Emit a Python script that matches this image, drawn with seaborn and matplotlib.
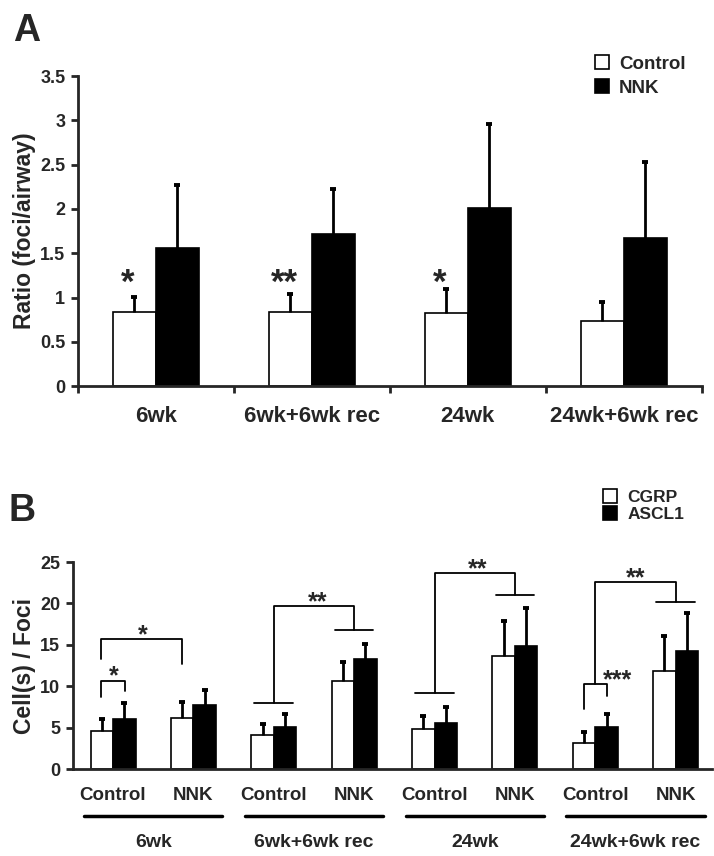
import matplotlib
matplotlib.use("Agg")
import matplotlib.pyplot as plt
import matplotlib.transforms as mtransforms
from matplotlib.lines import Line2D
from matplotlib.ticker import FormatStrFormatter
import numpy as np
import pandas as pd
import seaborn as sns

# ---- panel A data ----
groups = ["6wk", "6wk+6wk rec", "24wk", "24wk+6wk rec"]
treatments = ["Control", "NNK"]
ratio_control = [0.84, 0.84, 0.82, 0.73]
ratio_control_err = [0.17, 0.20, 0.28, 0.22]
ratio_nnk = [1.56, 1.72, 2.01, 1.67]
ratio_nnk_err = [0.71, 0.51, 0.95, 0.86]
stars_a = ["*", "**", "*", ""]

# ---- panel B data ----
markers = ["CGRP", "ASCL1"]
cgrp = [4.6, 6.2, 4.1, 10.6, 4.8, 13.6, 3.2, 11.9]
cgrp_err = [1.5, 1.95, 1.3, 2.3, 1.6, 4.3, 1.25, 4.2]
ascl1 = [6.0, 7.7, 5.1, 13.3, 5.6, 14.9, 5.1, 14.3]
ascl1_err = [2.0, 1.9, 1.5, 1.8, 1.95, 4.5, 1.6, 4.6]

# significance marks of panel B (x in bar-slot units, y in cells/foci)
pair_brackets = [  # x left, x right, y top, y left end, y right end
    (-0.145, 0.145, 10.6, 8.7, 9.4),
    (-0.145, 0.855, 15.7, 13.3, 12.7),
    (5.855, 6.145, 10.3, 7.3, 8.8),
]
group_brackets = [  # control slot, NNK slot, y start, y top, y NNK line, draw control line
    (2, 3, 8.0, 19.7, 16.8, True),
    (4, 5, 9.15, 23.7, 21.0, True),
    (6, 7, 10.3, 22.6, 20.2, False),
]
star_labels_b = [("*", 0.01, 12.1), ("*", 0.37, 17.0), ("**", 2.55, 21.1),
                 ("**", 4.54, 25.0), ("**", 6.5, 23.95), ("***", 6.28, 11.6)]

sns.set_style("ticks")
plt.rcParams["font.family"] = ["Liberation Sans", "DejaVu Sans"]
plt.rcParams["font.weight"] = "bold"
fill = {"Control": "white", "NNK": "black", "CGRP": "white", "ASCL1": "black"}


def add_errorbars(ax, errs):
    for cont, err in zip(ax.containers, errs):
        for bar, e in zip(cont, err):
            x = bar.get_x() + bar.get_width() / 2
            h = bar.get_height()
            _, caps, _ = ax.errorbar(x, h, yerr=[[0], [e]], fmt="none", ecolor="black",
                                     elinewidth=2, capsize=2.5, capthick=2.8, zorder=1)
            for c in caps:
                if np.allclose(c.get_ydata(), h):
                    c.set_visible(False)


def style_axes(ax):
    sns.despine(ax=ax)
    for s in ["left", "bottom"]:
        ax.spines[s].set_linewidth(2)
    ax.tick_params(axis="y", length=5, width=2, pad=4, labelsize=13)
    ax.yaxis.set_major_formatter(FormatStrFormatter("%g"))


fig = plt.figure(figsize=(7.14, 8.56), dpi=100)
ax_a = fig.add_axes([0.109, 0.549, 0.874, 0.362])
ax_b = fig.add_axes([0.102, 0.1016, 0.895, 0.2418])

# ---- panel A ----
df_a = pd.DataFrame({
    "group": groups * 2,
    "treatment": np.repeat(treatments, len(groups)),
    "ratio": ratio_control + ratio_nnk,
})
sns.barplot(data=df_a, x="group", y="ratio", hue="treatment", hue_order=treatments,
            palette=fill, saturation=1, edgecolor="black", linewidth=1.2, width=0.55,
            errorbar=None, legend=False, ax=ax_a)
add_errorbars(ax_a, [ratio_control_err, ratio_nnk_err])
style_axes(ax_a)
ax_a.set_ylim(0, 3.5)
ax_a.set_yticks(np.arange(0, 3.51, 0.5))
ax_a.set_xlim(-0.5, 3.5)
ax_a.set_xticks(range(len(groups)))
ax_a.set_xticklabels(groups, fontsize=16, fontweight="bold")
ax_a.set_xticks(np.arange(-0.5, len(groups), 1), minor=True)
ax_a.tick_params(axis="x", which="major", length=0, pad=14)
ax_a.tick_params(axis="x", which="minor", length=5, width=2)
ax_a.set_xlabel("")
ax_a.set_ylabel("Ratio (foci/airway)", fontsize=16.5, fontweight="bold", va="center")
ax_a.yaxis.set_label_coords(-0.0857, 0.5)

for bar, s in zip(ax_a.containers[0], stars_a):
    if s:
        ax_a.annotate(s, xy=(bar.get_x() + bar.get_width() / 2 - 0.04, 1.28),
                      xytext=(0, -0.3 * 25), textcoords="offset points",
                      ha="center", va="center", fontsize=25, fontweight="bold")

fig.legend(handles=[Line2D([], [], marker="s", ls="none", mfc=fill[t], mec="black",
                           ms=9.5, mew=1.2, label=t) for t in treatments],
           loc="center left", bbox_to_anchor=(0.833, 0.911), frameon=False,
           fontsize=13.5, handlelength=0.8, handletextpad=0.5, labelspacing=0.35,
           borderpad=0, borderaxespad=0)

# ---- panel B ----
conds = [f"{g}|{t}" for g in groups for t in treatments]
df_b = pd.DataFrame({
    "cond": conds * 2,
    "marker": np.repeat(markers, len(conds)),
    "cells": cgrp + ascl1,
})
sns.barplot(data=df_b, x="cond", y="cells", hue="marker", hue_order=markers,
            palette=fill, saturation=1, edgecolor="black", linewidth=1.2, width=0.56,
            errorbar=None, legend=False, ax=ax_b)
add_errorbars(ax_b, [cgrp_err, ascl1_err])
style_axes(ax_b)
ax_b.set_ylim(0, 25)
ax_b.set_yticks(range(0, 26, 5))
ax_b.set_xlim(-0.5, 7.45)
ax_b.set_xticks(range(len(conds)))
ax_b.set_xticklabels([c.split("|")[1] for c in conds], fontsize=13.5, fontweight="bold")
ax_b.tick_params(axis="x", length=0, pad=13)
ax_b.set_xlabel("")
ax_b.set_ylabel("Cell(s) / Foci", fontsize=16.5, fontweight="bold", va="center")
ax_b.yaxis.set_label_coords(-0.0759, 0.5)

trans = mtransforms.blended_transform_factory(ax_b.transData, ax_b.transAxes)
for k, g in enumerate(groups):
    c = 2 * k + 0.5
    ax_b.plot([c - 0.86, c + 0.86], [-0.227, -0.227], color="black", lw=2.5,
              transform=trans, clip_on=False)
    ax_b.text(c, -0.377, g, transform=trans, ha="center", va="baseline",
              fontsize=14, fontweight="bold")

line_kw = dict(color="black", lw=1.3, clip_on=False)
for x1, x2, top, y1, y2 in pair_brackets:
    ax_b.plot([x1, x1, x2, x2], [y1, top, top, y2], **line_kw)
for xc, xn, y0, top, yn, ctrl_line in group_brackets:
    if ctrl_line:
        ax_b.plot([xc - 0.24, xc + 0.24], [y0, y0], **line_kw)
    ax_b.plot([xc, xc, xn, xn], [y0, top, top, yn], **line_kw)
    ax_b.plot([xn - 0.24, xn + 0.24], [yn, yn], **line_kw)
for s, x, y in star_labels_b:
    ax_b.annotate(s, xy=(x, y), xytext=(0, -0.3 * 18), textcoords="offset points",
                  ha="center", va="center", fontsize=18, fontweight="bold",
                  annotation_clip=False)

fig.legend(handles=[Line2D([], [], marker="s", ls="none", mfc=fill[m], mec="black",
                           ms=9.5, mew=1.2, label=m) for m in markers],
           loc="center left", bbox_to_anchor=(0.845, 0.409), frameon=False,
           fontsize=12.5, handlelength=0.8, handletextpad=0.6, labelspacing=0.12,
           borderpad=0, borderaxespad=0)

fig.text(0.018, 0.985, "A", fontsize=27, fontweight="bold", ha="left", va="top")
fig.text(0.0126, 0.424, "B", fontsize=27, fontweight="bold", ha="left", va="top")

fig.savefig("out.png", dpi=100)
